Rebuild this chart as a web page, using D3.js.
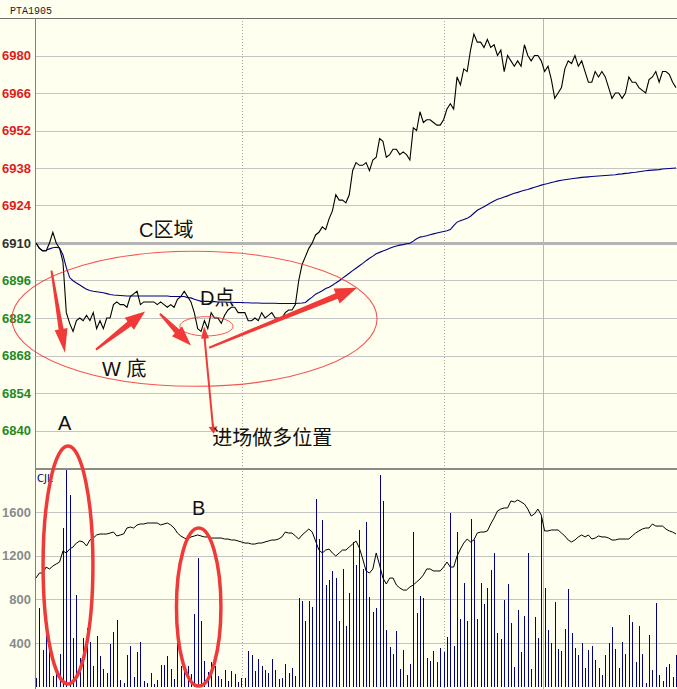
<!DOCTYPE html>
<html><head><meta charset="utf-8">
<script src="https://cdn.jsdelivr.net/npm/d3@7"></script>
<style>body{margin:0;background:#fffff0;} svg{display:block}</style>
</head><body><svg id="c" width="677" height="689"></svg>
<script>
// ---------------- data ----------------
const title = "PTA1905";
const price = [6910,6908,6907,6907,6910,6914,6910,6908,6903,6884,
 6880,6877,6881,6882,6881,6883,6881,6884,6878,6881,
 6878,6882,6882,6887,6888,6887,6887,6886,6890,6891,
 6892,6887,6888,6888,6888,6888,6887,6888,6887,6886,
 6887,6886,6889,6890,6892,6890,6888,6884,6878,6877,
 6881,6878,6884,6882,6882,6880,6883,6885,6886,6886,
 6884,6884,6884,6881,6881,6882,6881,6884,6882,6883,
 6884,6882,6882,6882,6884,6885,6885,6887,6896,6902,
 6905,6908,6910,6913,6914,6916,6915,6919,6922,6928,
 6926,6926,6925,6928,6937,6940,6939,6939,6940,6937,
 6941,6942,6949,6948,6942,6943,6945,6945,6943,6944,
 6943,6941,6953,6952,6959,6955,6956,6956,6955,6954,
 6954,6956,6960,6962,6960,6972,6969,6975,6974,6982,
 6988,6985,6985,6983,6986,6983,6984,6980,6982,6974,
 6980,6978,6976,6978,6976,6984,6980,6978,6980,6980,
 6978,6974,6976,6971,6964,6966,6968,6975,6978,6977,
 6980,6976,6978,6974,6970,6970,6974,6972,6974,6972,
 6968,6964,6966,6966,6964,6966,6972,6970,6970,6968,
 6967,6966,6971,6972,6974,6970,6974,6974,6973,6970,
 6968];
const avgPrice = [6910.0,6908.1,6907.1,6907.3,6907.8,6908.2,6908.4,6908.1,6905.6,6900.8,
 6897.1,6895.9,6895.1,6894.3,6893.5,6892.7,6892.3,6892.0,6891.8,6891.6,
 6891.4,6891.1,6890.8,6890.6,6890.5,6890.4,6890.3,6890.2,6890.2,6890.2,
 6890.2,6890.2,6890.2,6890.2,6890.2,6890.2,6890.2,6890.2,6890.2,6890.2,
 6890.0,6890.0,6890.0,6890.0,6890.0,6889.6,6889.5,6889.0,6888.6,6888.2,
 6888.2,6888.2,6888.1,6888.1,6888.0,6888.0,6888.0,6887.9,6887.9,6887.8,
 6887.8,6887.8,6887.7,6887.7,6887.6,6887.6,6887.6,6887.5,6887.5,6887.5,
 6887.5,6887.5,6887.4,6887.4,6887.4,6887.4,6887.4,6887.4,6887.5,6887.6,
 6887.8,6888.9,6889.8,6890.9,6891.5,6892.2,6893.0,6893.5,6894.2,6895.1,
 6895.9,6896.9,6897.8,6898.7,6899.7,6900.6,6901.5,6902.4,6903.4,6904.3,
 6905.1,6906.0,6906.5,6907.0,6907.5,6908.0,6908.5,6908.9,6909.2,6909.4,
 6909.7,6909.9,6910.7,6911.6,6912.2,6912.4,6912.7,6913.1,6913.4,6913.7,
 6914.0,6914.3,6914.6,6915.0,6916.5,6917.8,6918.3,6918.8,6919.2,6920.0,
 6921.1,6922.2,6922.9,6923.5,6924.3,6925.0,6925.7,6926.3,6926.7,6927.2,
 6927.6,6928.1,6928.6,6928.9,6929.3,6929.7,6930.0,6930.4,6930.8,6931.2,
 6931.6,6931.9,6932.2,6932.6,6932.9,6933.2,6933.4,6933.6,6933.8,6934.0,
 6934.2,6934.3,6934.5,6934.6,6934.7,6934.8,6934.9,6935.0,6935.1,6935.2,
 6935.3,6935.4,6935.5,6935.7,6935.8,6936.0,6936.1,6936.3,6936.4,6936.6,
 6936.8,6937.0,6937.1,6937.2,6937.3,6937.4,6937.6,6937.7,6937.8,6937.9,
 6938.0];
const volume = [75,723,335,560,344,100,121,298,1451,1986,
 1757,442,839,259,442,534,411,188,466,280,
 161,127,390,500,610,60,29,289,374,90,
 319,411,50,35,127,23,60,194,194,280,
 158,69,448,191,158,191,115,665,1182,601,
 234,130,228,191,96,72,151,50,142,112,
 44,75,81,326,289,145,252,188,151,121,
 252,151,66,75,206,127,167,99,815,784,
 601,784,732,1720,1353,1528,931,977,1062,998,
 604,1078,558,861,1329,1115,1436,1078,1509,824,
 681,723,1940,1702,518,365,295,509,161,335,
 106,206,1420,677,833,815,258,234,326,222,
 350,313,455,1589,372,1420,619,947,601,1537,
 1344,619,953,757,907,1069,1222,494,436,794,
 940,586,182,702,320,650,1222,161,641,448,
 1552,907,518,402,775,347,326,527,894,488,
 356,289,402,172,335,372,243,172,106,289,
 402,549,347,172,411,301,656,589,222,558,
 301,35,472,151,769,106,50,179,203,90,
 289];
// black line in the volume pane, read against the volume axis
const openInt = [995,1041,1041,1096,1078,1105,1124,1142,1243,1225,
 1261,1280,1316,1335,1326,1289,1344,1362,1390,1399,
 1399,1399,1408,1417,1381,1390,1399,1454,1463,1454,
 1482,1491,1491,1500,1500,1500,1500,1482,1491,1500,
 1482,1454,1408,1381,1362,1353,1372,1381,1390,1381,
 1372,1372,1362,1362,1362,1362,1353,1353,1344,1344,
 1335,1326,1316,1316,1307,1307,1316,1316,1326,1335,
 1344,1344,1353,1372,1417,1408,1408,1381,1353,1390,
 1417,1445,1417,1335,1252,1225,1252,1261,1225,1197,
 1225,1252,1252,1280,1307,1335,1271,1170,1060,1041,
 1078,1225,1115,995,940,995,995,931,904,885,
 885,913,931,959,986,1023,1078,1078,1060,1060,
 1060,1096,1142,1096,1096,1197,1261,1316,1353,1326,
 1344,1408,1417,1417,1427,1491,1546,1610,1628,1638,
 1638,1702,1693,1711,1693,1674,1628,1564,1583,1628,
 1573,1427,1427,1436,1436,1436,1408,1381,1344,1326,
 1344,1372,1390,1372,1390,1353,1362,1381,1372,1372,
 1362,1344,1344,1353,1353,1353,1353,1381,1408,1427,
 1445,1454,1454,1491,1472,1472,1472,1445,1427,1417,
 1399];
const priceTicks = [6980,6966,6952,6938,6924,6910,6896,6882,6868,6854,6840];
const prevSettle = 6910;
const volTicks = [1600,1200,800,400];
const volLabel = "CJL";
const sessionMarks = [61.3, 121.2, 150.6];   // bar index of time separators

// annotation texts (data coordinates: bar index, price / volume)
const notesPrice = [
  {t:"C区域", i:30.6, v:6912.4},
  {t:"D点", i:48.7, v:6887.0},
  {t:"W 底", i:19.6, v:6860.5},
  {t:"进场做多位置", i:52.3, v:6834.5},
  {t:"A", i:6.5, v:6840.3}
];
const notesVol = [{t:"B", i:46.3, v:1573}];

// ---------------- drawing ----------------
const W = 677, H = 689;
const svg = d3.select("#c");
const x = d3.scaleLinear().domain([0, price.length - 1]).range([36, 676]);
const yP = d3.scaleLinear().domain([6826, 6994]).range([468, 18]);
const yV = d3.scaleLinear().domain([0, 2000]).range([686.5, 468.5]);
const px = v => Math.round(v) + 0.5;

svg.append("rect").attr("width", W).attr("height", H).attr("fill", "#fffff0");

// horizontal grid
const g = svg.append("g").attr("shape-rendering", "crispEdges");
g.selectAll(".gp").data(priceTicks).join("line")
  .attr("x1", 36).attr("x2", W)
  .attr("y1", d => d === prevSettle ? Math.round(yP(d)) : px(yP(d)))
  .attr("y2", d => d === prevSettle ? Math.round(yP(d)) : px(yP(d)))
  .attr("stroke", d => d === prevSettle ? "#b4b4b4" : "#c4c4c4")
  .attr("stroke-width", d => d === prevSettle ? 3 : 1);
g.selectAll(".gv").data(volTicks).join("line")
  .attr("x1", 36).attr("x2", W)
  .attr("y1", d => px(yV(d))).attr("y2", d => px(yV(d)))
  .attr("stroke", "#c4c4c4");
// vertical time separators
g.selectAll(".vs").data(sessionMarks).join("line")
  .attr("x1", d => px(x(d))).attr("x2", d => px(x(d)))
  .attr("y1", 18).attr("y2", H)
  .attr("stroke", (d, k) => k < 2 ? "#a8a8a8" : "#b8b8b8")
  .attr("stroke-dasharray", (d, k) => k < 2 ? "1,2" : null);

// volume bars
svg.append("g").attr("shape-rendering", "crispEdges")
  .selectAll("line").data(volume).join("line")
  .attr("x1", (d, i) => px(x(i))).attr("x2", (d, i) => px(x(i)))
  .attr("y1", yV(0)).attr("y2", d => yV(d))
  .attr("stroke", "#000080").attr("stroke-width", 1);

// open interest (black line in volume pane)
svg.append("path").datum(openInt)
  .attr("d", d3.line().x((d, i) => x(i)).y(d => yV(d)))
  .attr("fill", "none").attr("stroke", "#000").attr("stroke-width", 1);

// average price line
svg.append("path").datum(avgPrice)
  .attr("d", d3.line().x((d, i) => x(i)).y(d => yP(d)))
  .attr("fill", "none").attr("stroke", "#000080").attr("stroke-width", 1.1);
// price line
svg.append("path").datum(price)
  .attr("d", d3.line().x((d, i) => x(i)).y(d => yP(d)))
  .attr("fill", "none").attr("stroke", "#000").attr("stroke-width", 1.1);

// frame
const fr = svg.append("g").attr("shape-rendering", "crispEdges");
fr.append("line").attr("x1", 0).attr("x2", W).attr("y1", 18.5).attr("y2", 18.5).attr("stroke", "#707070");
fr.append("line").attr("x1", 35).attr("x2", W).attr("y1", 469).attr("y2", 469).attr("stroke", "#8a8a8a").attr("stroke-width", 2);
fr.append("line").attr("x1", 35.5).attr("x2", 35.5).attr("y1", 18).attr("y2", H).attr("stroke", "#808080");

// axes labels
const axP = svg.append("g").attr("transform", "translate(31,0)")
  .call(d3.axisLeft(yP).tickValues(priceTicks).tickSize(0).tickPadding(0).tickFormat(d3.format("d")));
axP.select(".domain").remove();
axP.selectAll("text")
  .attr("font-family", "'Liberation Sans', Arial, sans-serif")
  .attr("font-size", 13).attr("font-weight", "bold")
  .attr("fill", d => d > prevSettle ? "#e01c1c" : d < prevSettle ? "#1f8a1f" : "#303030");
const axV = svg.append("g").attr("transform", "translate(31,0)")
  .call(d3.axisLeft(yV).tickValues(volTicks).tickSize(0).tickPadding(0).tickFormat(d3.format("d")));
axV.select(".domain").remove();
axV.selectAll("text")
  .attr("font-family", "'Liberation Sans', Arial, sans-serif")
  .attr("font-size", 13).attr("font-weight", "bold").attr("fill", "#8a8a8a");

svg.append("text").attr("x", 10).attr("y", 14).text(title)
  .attr("font-family", "'Liberation Mono', monospace").attr("font-size", 11.5)
  .attr("textLength", 42).attr("lengthAdjust", "spacingAndGlyphs").attr("fill", "#222");
svg.append("text").attr("x", 37).attr("y", 482).text(volLabel)
  .attr("font-family", "'DejaVu Sans', sans-serif").attr("font-size", 10).attr("fill", "#000080");

// ---------------- annotations ----------------
const red = "#f03a3a";
const ann = svg.append("g");
function ell(cx, cy, rx, ry, w) {
  ann.append("ellipse").attr("cx", cx).attr("cy", cy).attr("rx", rx).attr("ry", ry)
    .attr("fill", "none").attr("stroke", red).attr("stroke-width", w).attr("opacity", w > 2 ? 1 : 0.85);
}
const ux = x(1) - x(0), uyP = yP(0) - yP(1), uyV = yV(0) - yV(1);
ell(x(47.05), yP(6881.7), 54.2 * ux, 25.2 * uyP, 1.1);
ell(x(50.6), yP(6878.9), 7.9 * ux, 3.6 * uyP, 1);
ell(x(9.5), yV(1115), 7.4 * ux, 1092 * uyV, 3.5);
ell(x(48.3), yV(729), 6.6 * ux, 725 * uyV, 3.5);

function arrow(i1, p1, i2, p2, tailW, neckW, headW, headL) {
  const x1 = x(i1), y1 = yP(p1), x2 = x(i2), y2 = yP(p2);
  const L = Math.hypot(x2 - x1, y2 - y1), ux_ = (x2 - x1) / L, uy_ = (y2 - y1) / L;
  const nx = -uy_, ny = ux_;
  const bx = x2 - ux_ * headL, by = y2 - uy_ * headL;
  const pts = [
    [x1 + nx * tailW / 2, y1 + ny * tailW / 2],
    [bx + nx * neckW / 2, by + ny * neckW / 2],
    [bx + nx * headW / 2, by + ny * headW / 2],
    [x2, y2],
    [bx - nx * headW / 2, by - ny * headW / 2],
    [bx - nx * neckW / 2, by - ny * neckW / 2],
    [x1 - nx * tailW / 2, y1 - ny * tailW / 2]
  ];
  ann.append("polygon").attr("points", pts.map(p => p.join(",")).join(" ")).attr("fill", red);
}
arrow(4.6, 6899.7, 8.6, 6869.0, 2, 5, 13, 24);
arrow(17.8, 6870.2, 32.4, 6884.4, 2, 6, 15, 20);
arrow(36.8, 6883.6, 46.0, 6871.7, 2, 6, 14, 20);
arrow(51.4, 6870.9, 95.3, 6893.3, 2, 6, 16, 22);
// thin pointer to entry
ann.append("line").attr("x1", x(49.9)).attr("y1", yP(6876.5)).attr("x2", x(52.6)).attr("y2", yP(6840.5))
  .attr("stroke", red).attr("stroke-width", 2);
arrow(50.2, 6874.0, 49.9, 6878.8, 2, 2, 8, 12);
arrow(52.5, 6842.5, 52.75, 6838.8, 2, 2, 9, 7);

ann.selectAll(".np").data(notesPrice).join("text")
  .attr("x", d => x(d.i)).attr("y", d => yP(d.v)).text(d => d.t)
  .attr("font-family", "'Liberation Sans', 'Noto Sans CJK SC', sans-serif")
  .attr("font-size", 20).attr("fill", "#111");
ann.selectAll(".nv").data(notesVol).join("text")
  .attr("x", d => x(d.i)).attr("y", d => yV(d.v)).text(d => d.t)
  .attr("font-family", "'Liberation Sans', 'Noto Sans CJK SC', sans-serif")
  .attr("font-size", 20).attr("fill", "#111");
</script>
</body></html>
